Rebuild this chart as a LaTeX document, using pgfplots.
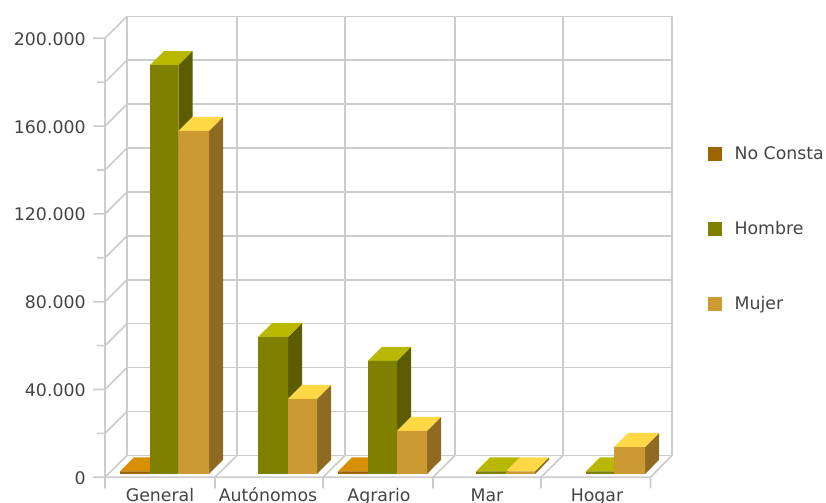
\documentclass[border=0pt]{standalone}
\usepackage{pgfplots}
\pgfplotsset{compat=1.18}
\usepackage{fontspec}
\setmainfont{DejaVu Sans}
\definecolor{nc}{HTML}{9E6400}\definecolor{nct}{HTML}{D89000}\definecolor{ncs}{HTML}{704800}
\definecolor{ho}{HTML}{808000}\definecolor{hot}{HTML}{B8B800}\definecolor{hos}{HTML}{5C5C00}
\definecolor{mu}{HTML}{CC9933}\definecolor{mut}{HTML}{FFD845}\definecolor{mus}{HTML}{8F6B22}
\definecolor{gr}{HTML}{CCCCCC}\definecolor{tx}{HTML}{444444}
\newcommand\threebar[6]{%
 \pgfmathsetmacro\va{#3+1.5}\pgfmathsetmacro\vb{\va+6.38}\pgfmathsetmacro\xb{#1+14}\pgfmathsetmacro\xc{#2+14}\pgfmathsetmacro\bb{1.5+6.38}%
 \edef\temp{%
 \noexpand\addplot[fill=#6,draw=none,forget plot] coordinates {(#2,1.5) (#2,\va) (\xc,\vb) (\xc,\bb) (#2,1.5)};
 \noexpand\addplot[fill=#5,draw=none,forget plot] coordinates {(#1,\va) (#2,\va) (\xc,\vb) (\xb,\vb) (#1,\va)};
 \noexpand\addplot[fill=#4,draw=none,forget plot] coordinates {(#1,1.5) (#2,1.5) (#2,\va) (#1,\va) (#1,1.5)};
 }\temp}
\begin{document}
\begin{tikzpicture}
\path[use as bounding box] (0,0) rectangle (619.5pt,377.25pt);
\clip (0,0) rectangle (619.5pt,377.25pt);
\begin{axis}[
 scale only axis, width=619.5pt, height=377.25pt,
 xmin=0, xmax=826, ymin=-11.71, ymax=217.45,
 axis line style={draw=none}, major tick length=0pt, minor tick length=0pt,
 xtick pos=bottom, ytick pos=left,
 xtick={160,268,379,487,597}, xticklabels={General,Autónomos,Agrario,Mar,Hogar},
 ytick={0,40,80,120,160,200},
 yticklabels={0,40.000,80.000,120.000,160.000,200.000},
 ticklabel style={font=\fontsize{13pt}{15pt}\selectfont, text=tx},
 xticklabel style={anchor=base, yshift=0.75pt},
 yticklabel style={anchor=east, xshift=67.75pt, yshift=-0.5pt},
 legend cell align=left,
 legend style={at={(axis cs:704,153.3)}, anchor=north west, draw=none, fill=none,
   font=\fontsize{13pt}{15pt}\selectfont, text=tx, row sep=40.9pt,
   /tikz/every odd column/.append style={column sep=7.6pt}},
 legend image code/.code={\fill[#1] (0pt,-4.875pt) rectangle (9.75pt,4.875pt);},
 line cap=butt,
]
\addlegendimage{nc}\addlegendentry{No Consta}
\addlegendimage{ho}\addlegendentry{Hombre}
\addlegendimage{mu}\addlegendentry{Mujer}
% back wall horizontals
\addplot[gr,line width=1.25pt,forget plot,unbounded coords=jump] coordinates {
(127,10)(672,10)(672,nan)
(127,30)(672,30)(672,nan)
(127,50)(672,50)(672,nan)
(127,70)(672,70)(672,nan)
(127,90)(672,90)(672,nan)
(127,110)(672,110)(672,nan)
(127,130)(672,130)(672,nan)
(127,150)(672,150)(672,nan)
(127,170)(672,170)(672,nan)
(127,190)(672,190)(672,nan)
(127,210)(672,210)(672,nan)
};
% back wall verticals and floor diagonals
\addplot[gr,line width=1.25pt,forget plot,unbounded coords=jump] coordinates {
(127,10)(127,210)(127,nan)
(237,10)(237,210)(237,nan)
(345,10)(345,210)(345,nan)
(455,10)(455,210)(455,nan)
(563,10)(563,210)(563,nan)
(672,10)(672,210)(672,nan)
(105,0)(127,10)(127,nan)
(215,0)(237,10)(237,nan)
(323,0)(345,10)(345,nan)
(433,0)(455,10)(455,nan)
(541,0)(563,10)(563,nan)
(650.5,0)(672,10)(672,nan)
};
% left wall and ticks
\addplot[gr,line width=1.25pt,forget plot,unbounded coords=jump] coordinates {
(105,-5)(105,200)(105,nan)
(93,0)(650.5,0)(650.5,nan)
(215,-5)(215,0)(215,nan)
(323,-5)(323,0)(323,nan)
(433,-5)(433,0)(433,nan)
(541,-5)(541,0)(541,nan)
(650.5,-5)(650.5,0)(650.5,nan)
(93,40)(105,40)(127,50)(127,nan)
(93,80)(105,80)(127,90)(127,nan)
(93,120)(105,120)(127,130)(127,nan)
(93,160)(105,160)(127,170)(127,nan)
(93,200)(105,200)(127,210)(127,nan)
(97,20)(105,20)(127,30)(127,nan)
(97,60)(105,60)(127,70)(127,nan)
(97,100)(105,100)(127,110)(127,nan)
(97,140)(105,140)(127,150)(127,nan)
(97,180)(105,180)(127,190)(127,nan)
};
% bars
\threebar{120}{150}{1.2}{nc}{nct}{ncs}
\threebar{150}{178.5}{186.3}{ho}{hot}{hos}
\threebar{178.5}{209}{156.3}{mu}{mut}{mus}
\threebar{258}{288}{62.4}{ho}{hot}{hos}
\threebar{288}{317}{34.2}{mu}{mut}{mus}
\threebar{338}{368}{1.2}{nc}{nct}{ncs}
\threebar{368}{397}{51.5}{ho}{hot}{hos}
\threebar{397}{427}{19.6}{mu}{mut}{mus}
\threebar{476}{506}{1.2}{ho}{hot}{hos}
\threebar{506}{535}{1.2}{mu}{mut}{mus}
\threebar{586}{614}{1.2}{ho}{hot}{hos}
\threebar{614}{645}{12.3}{mu}{mut}{mus}
\end{axis}
\end{tikzpicture}
\end{document}
